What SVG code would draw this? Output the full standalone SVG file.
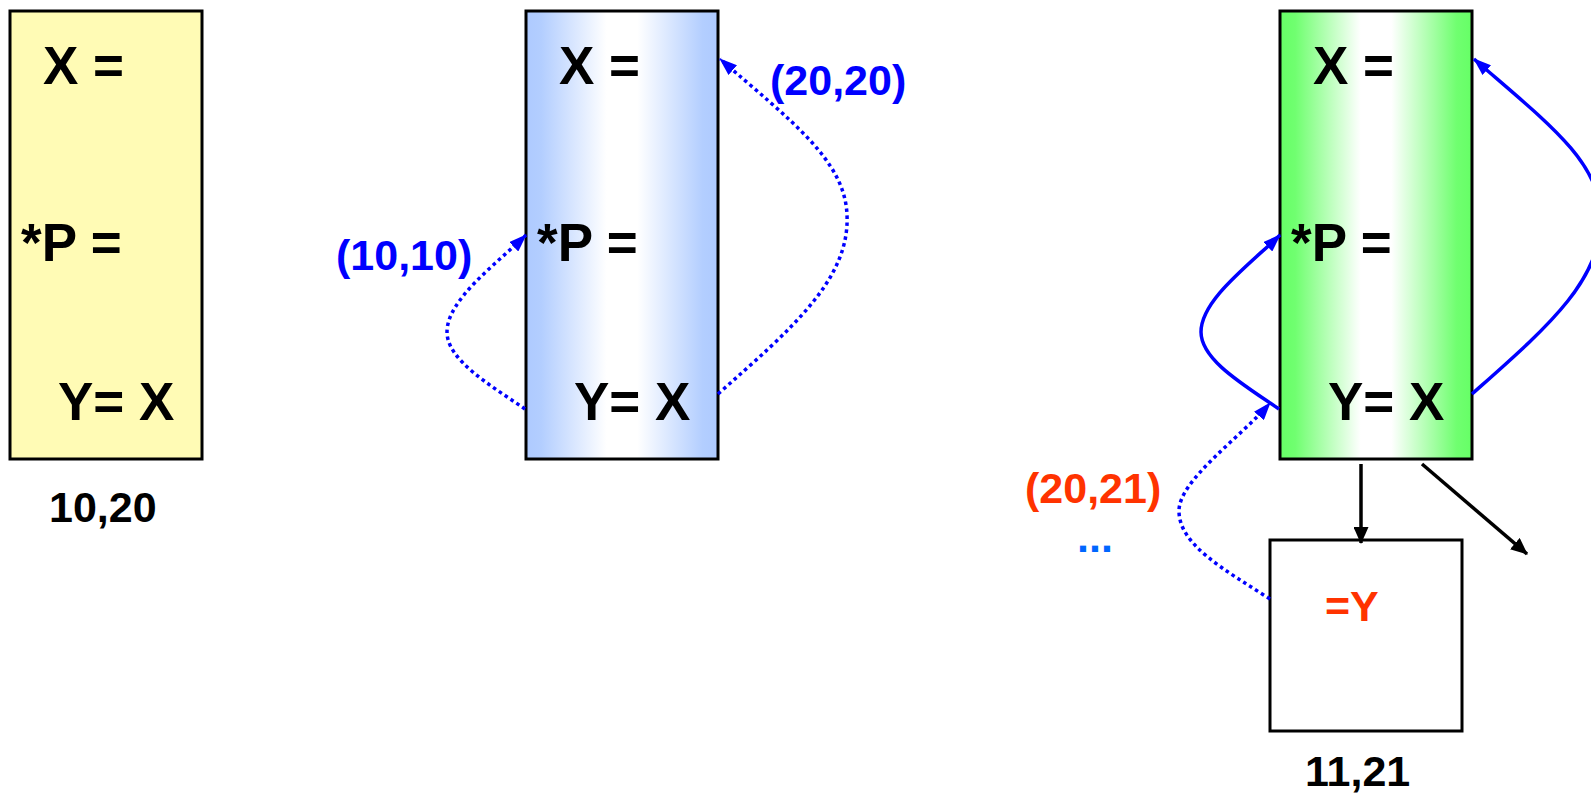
<svg xmlns="http://www.w3.org/2000/svg" width="1591" height="795" viewBox="0 0 1591 795">
<style>
.box{stroke:#000;stroke-width:3}
.t{font-family:"Liberation Sans",Arial,sans-serif;font-weight:bold;font-size:53px;fill:#000}
.l{font-family:"Liberation Sans",Arial,sans-serif;font-weight:bold;font-size:43px}
.dot{fill:none;stroke:#0000FF;stroke-width:3.5;stroke-dasharray:3.5 3.5}
.sol{fill:none;stroke:#0000FF;stroke-width:3.5}
.blk{fill:none;stroke:#000;stroke-width:3.5}
</style>
<defs>
<linearGradient id="gBlue" x1="0" y1="0" x2="1" y2="0">
<stop offset="0" stop-color="#AECAFF"/>
<stop offset="0.08" stop-color="#B3CEFF"/>
<stop offset="0.42" stop-color="#FFFFFF"/>
<stop offset="0.58" stop-color="#FFFFFF"/>
<stop offset="0.92" stop-color="#B3CEFF"/>
<stop offset="1" stop-color="#AECAFF"/>
</linearGradient>
<linearGradient id="gGreen" x1="0" y1="0" x2="1" y2="0">
<stop offset="0" stop-color="#66FF66"/>
<stop offset="0.08" stop-color="#70FF70"/>
<stop offset="0.42" stop-color="#FFFFFF"/>
<stop offset="0.58" stop-color="#FFFFFF"/>
<stop offset="0.92" stop-color="#70FF70"/>
<stop offset="1" stop-color="#66FF66"/>
</linearGradient>
<marker id="aBlue" markerUnits="userSpaceOnUse" markerWidth="18" markerHeight="13" refX="17" refY="6.5" orient="auto" viewBox="0 0 18 13">
<path d="M0,0 L18,6.5 L0,13 z" fill="#0000FF"/>
</marker>
<marker id="aBlack" markerUnits="userSpaceOnUse" markerWidth="17" markerHeight="15" refX="16" refY="7.5" orient="auto" viewBox="0 0 17 15">
<path d="M0,0 L17,7.5 L0,15 z" fill="#000"/>
</marker>
</defs>

<g id="state1">
<rect class="box" x="10" y="11" width="192" height="448" fill="#FFFBB5"/>
<text class="t" x="43" y="84">X =</text>
<text class="t" x="21" y="261">*P =</text>
<text class="t" x="58" y="420">Y= X</text>
<text class="l" x="49" y="522" fill="#000">10,20</text>
</g>

<g id="state2">
<rect class="box" x="526" y="11" width="192" height="448" fill="url(#gBlue)"/>
<text class="t" x="559" y="84">X =</text>
<text class="t" x="537" y="261">*P =</text>
<text class="t" x="574" y="420">Y= X</text>
</g>

<g id="state3">
<rect class="box" x="1280" y="11" width="192" height="448" fill="url(#gGreen)"/>
<text class="t" x="1313" y="84">X =</text>
<text class="t" x="1291" y="261">*P =</text>
<text class="t" x="1328" y="420">Y= X</text>
</g>

<g id="state4">
<rect class="box" x="1270" y="540" width="192" height="191" fill="#FFFFFF"/>
<text class="l" x="1325" y="621" fill="#FF3300">=Y</text>
<text class="l" x="1305" y="786" fill="#000">11,21</text>
</g>

<g id="connectors">
<path class="dot" d="M525,409 C490,385 447,360 447,332 C447,300 495,265 526,235" marker-end="url(#aBlue)"/>
<path class="dot" d="M718,394 C790,330 850,280 847,215 C845,160 790,120 720,59" marker-end="url(#aBlue)"/>
<path class="sol" d="M1279,409 C1244,385 1201,360 1201,332 C1201,300 1249,265 1280,235" marker-end="url(#aBlue)"/>
<path class="sol" d="M1472,394 C1544,330 1604,280 1601,215 C1599,160 1544,120 1474,59" marker-end="url(#aBlue)"/>
<path class="dot" d="M1270,599 C1225,570 1179,545 1179,511 C1179,480 1240,438 1270,403" marker-end="url(#aBlue)"/>
<path class="blk" d="M1361,464 L1361,543" marker-end="url(#aBlack)"/>
<path class="blk" d="M1422,464 L1527,554" marker-end="url(#aBlack)"/>
<text class="l" x="336" y="270" fill="#0000FF">(10,10)</text>
<text class="l" x="770" y="95" fill="#0000FF">(20,20)</text>
<text class="l" x="1025" y="503" fill="#FF3300">(20,21)</text>
<text class="l" x="1077" y="552" fill="#0066FF">...</text>
</g>
</svg>
